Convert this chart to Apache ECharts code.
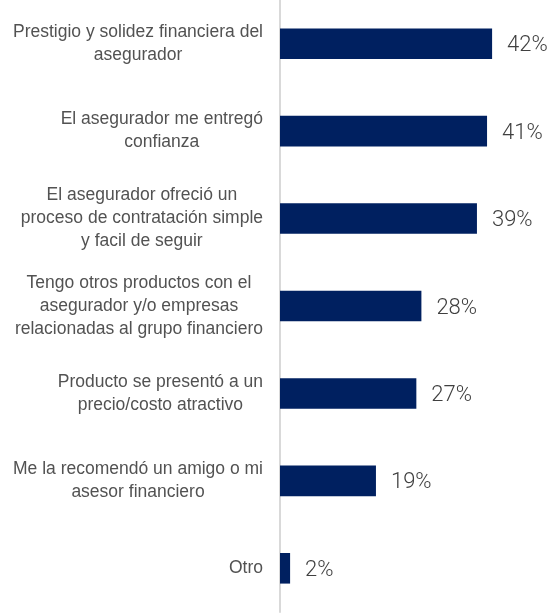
<!DOCTYPE html>
<html>
<head>
<meta charset="utf-8">
<style>
  html, body { margin: 0; padding: 0; background: #ffffff; }
  #chart { width: 550px; height: 615px; }
</style>
<script src="https://cdn.jsdelivr.net/npm/echarts@6/dist/echarts.min.js"></script>
</head>
<body>
<div id="chart"></div>
<script>
// Reasons for choosing the insurer (share of respondents, %)
const categories = [
  'Prestigio y solidez financiera del\nasegurador',
  'El asegurador me entregó\nconfianza',
  'El asegurador ofreció un\nproceso de contratación simple\ny facil de seguir',
  'Tengo otros productos con el\nasegurador y/o empresas\nrelacionadas al grupo financiero',
  'Producto se presentó a un\nprecio/costo atractivo',
  'Me la recomendó un amigo o mi\nasesor financiero',
  'Otro'
];
const values = [42, 41, 39, 28, 27, 19, 2];

const chart = echarts.init(document.getElementById('chart'), null, { renderer: 'canvas' });

// Wrap every line of a label in a centred rich token so the lines of one
// label are centred on each other while the whole block sits right-aligned.
function centreLines(text) {
  return text.split('\n').map(function (l) { return '{c|' + l + '}'; }).join('\n');
}

chart.setOption({
  animation: false,
  grid: { left: 280, right: 17.5, top: 0, bottom: 3, containLabel: false },
  xAxis: {
    type: 'value',
    min: 0,
    max: 50,
    show: false
  },
  yAxis: {
    type: 'category',
    inverse: true,
    data: categories,
    axisLine: { show: true, lineStyle: { color: '#d9d9d9', width: 2 } },
    axisTick: { show: false },
    axisLabel: {
      margin: 17,
      align: 'right',
      formatter: centreLines,
      rich: {
        c: {
          align: 'center',
          fontFamily: 'Liberation Sans, Arial, sans-serif',
          fontSize: 17.5,
          lineHeight: 23,
          color: '#525252'
        }
      }
    }
  },
  series: [{
    type: 'bar',
    data: values,
    barWidth: '35%',
    itemStyle: { color: '#002060' },
    label: {
      show: true,
      position: 'right',
      distance: 15,
      offset: [0, 2],
      formatter: '{c}%',
      fontFamily: 'Roboto, Liberation Sans, sans-serif',
      fontWeight: 300,
      fontSize: 22,
      color: '#404040'
    }
  }]
});
</script>
</body>
</html>
